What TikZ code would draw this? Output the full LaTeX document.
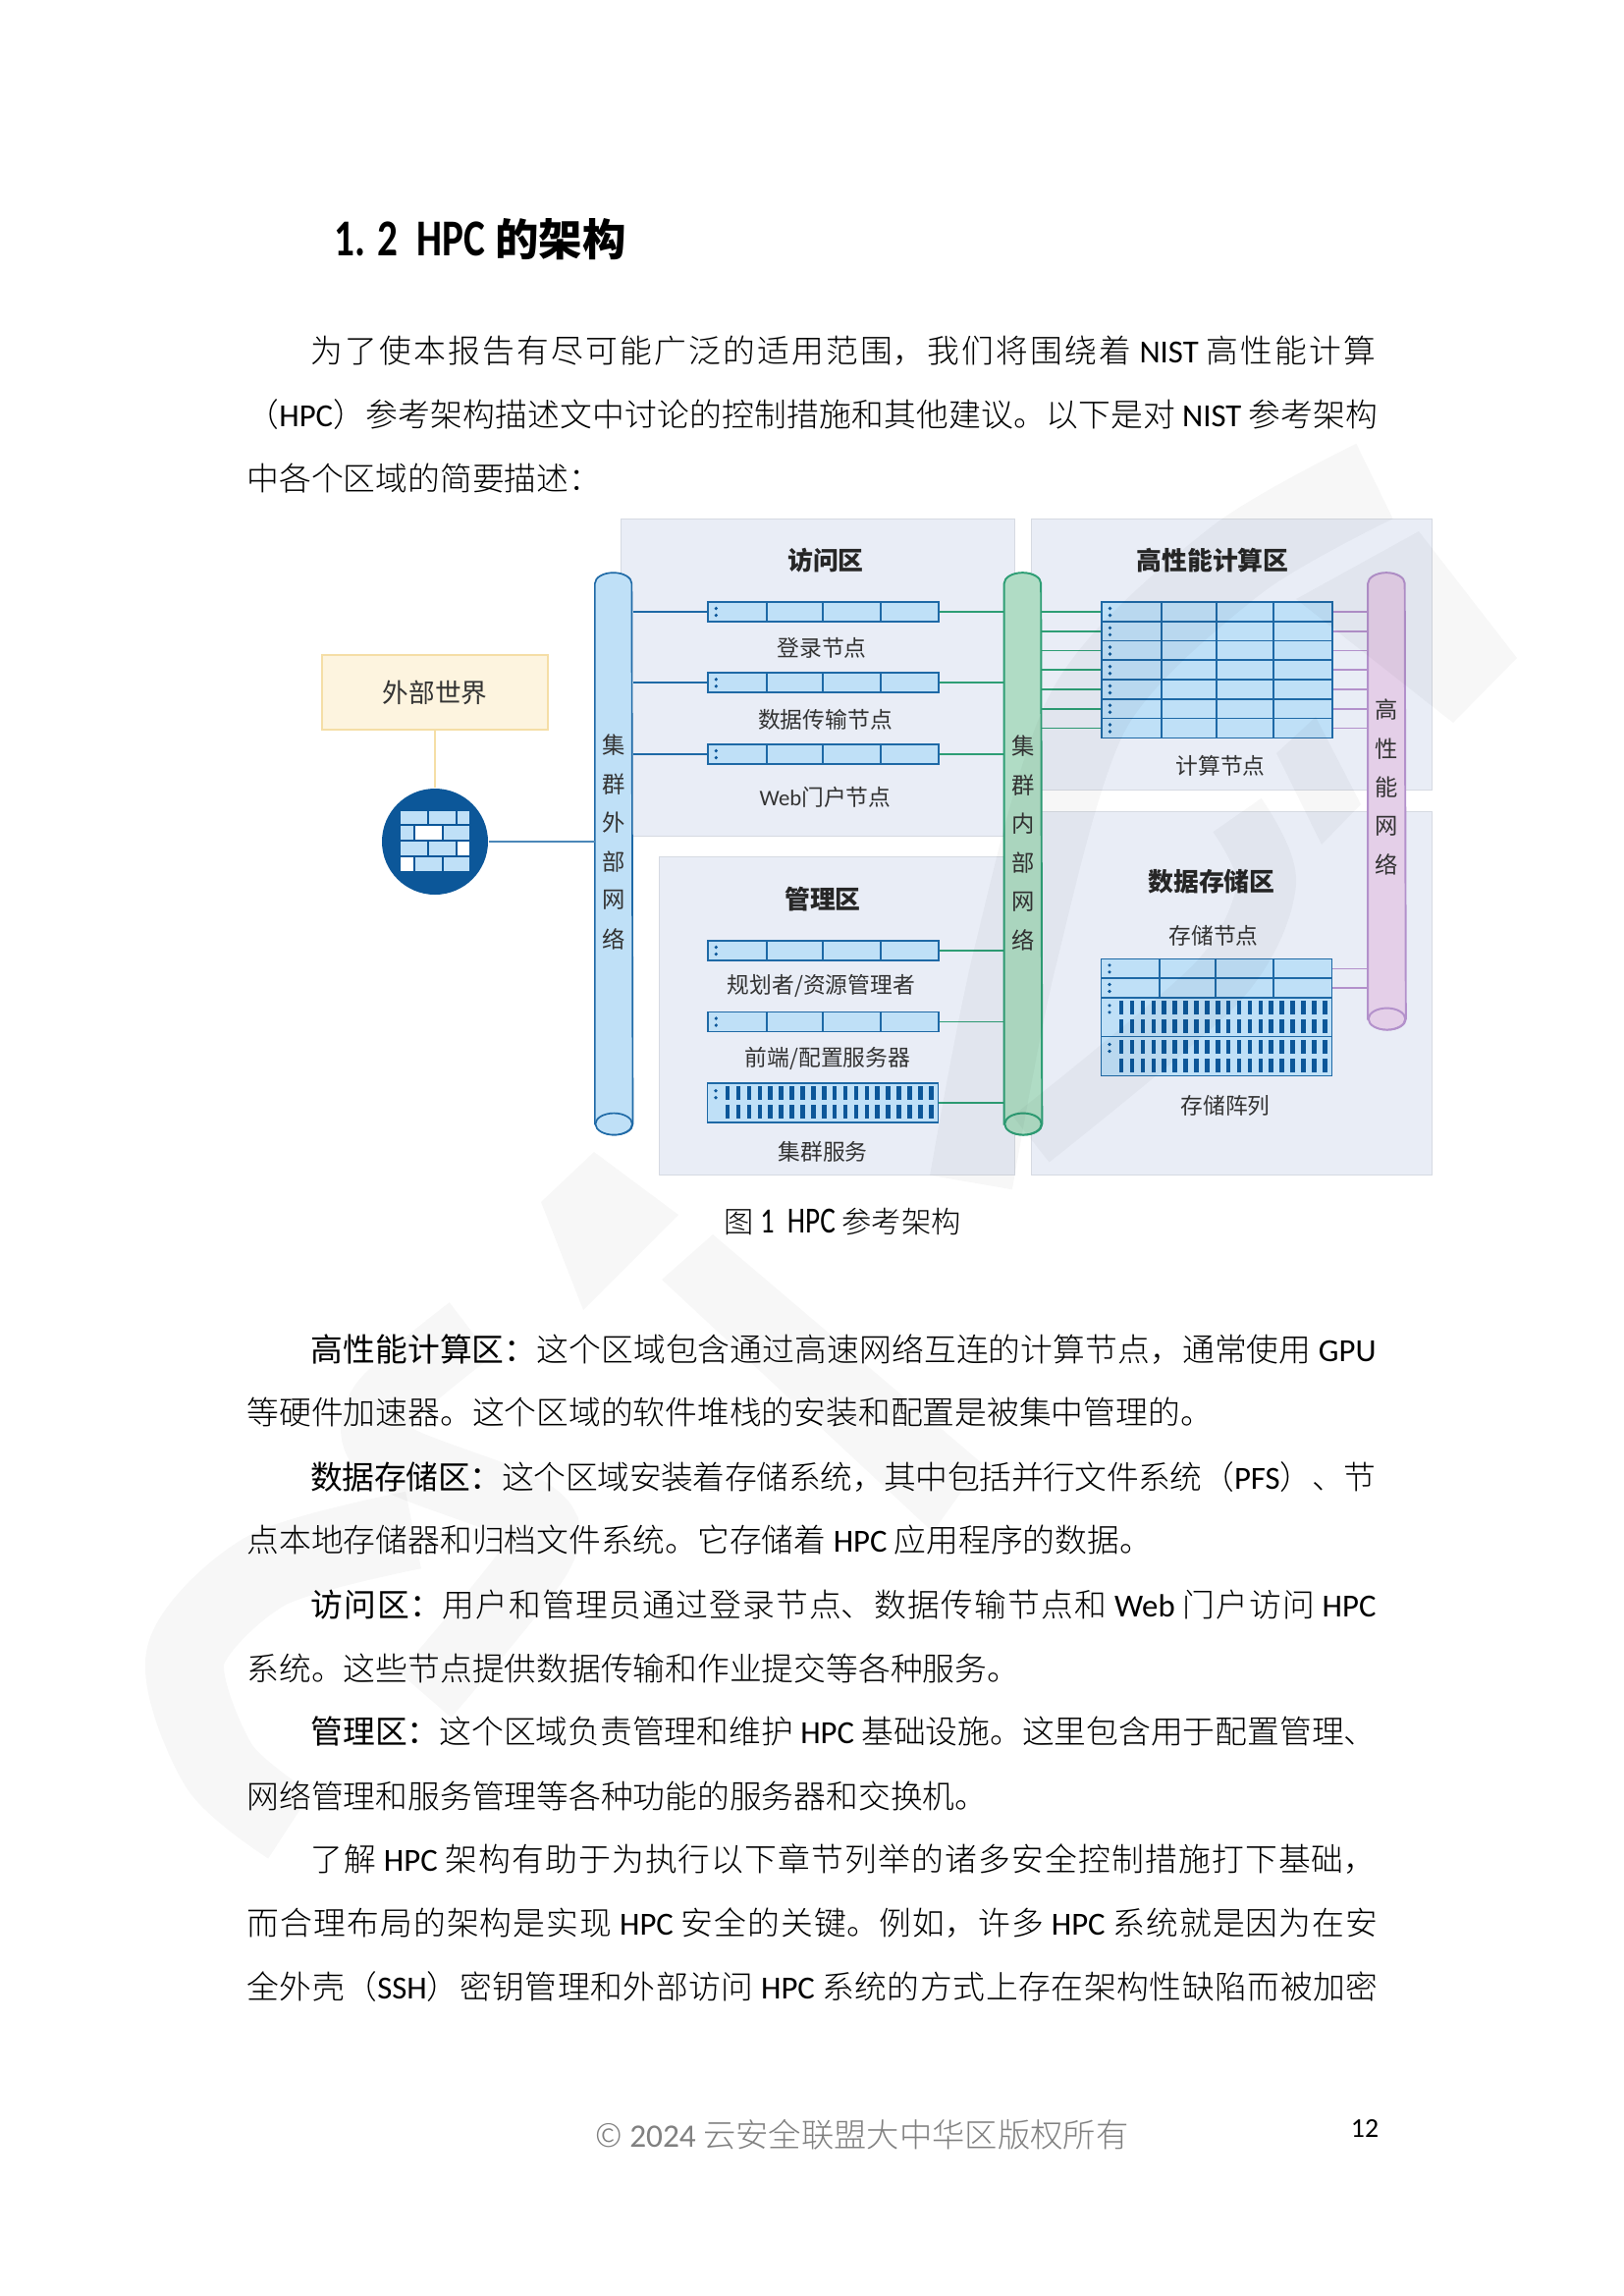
\documentclass[tikz,border=0pt]{standalone}
\usepackage{fontspec}
\setmainfont{Noto Sans CJK SC}
\newfontfamily\cjklight{Noto Sans CJK SC Light}
\newfontfamily\latfont{Carlito}
\newfontfamily\narrowlat[FakeStretch=0.78]{Carlito}
\def\unitpx{0.36pt}
\newcommand{\lat}[1]{{\latfont #1}}
\newcommand{\bodyfont}{\cjklight\fontsize{11.8pt}{14pt}\selectfont}
\newcommand{\fullline}[1]{#1\break}
\newcommand{\headfont}{\normalfont\fontsize{11.8pt}{14pt}\selectfont}
\definecolor{panelblue}{HTML}{E9EDF6}
\definecolor{cellblue}{HTML}{BFE0F7}
\definecolor{edgeblue}{HTML}{1E69A6}
\definecolor{darkblue}{HTML}{0C5799}
\definecolor{pipegreen}{HTML}{B0DCC5}
\definecolor{edgegreen}{HTML}{2E9E75}
\definecolor{pipepurple}{HTML}{E4CFE8}
\definecolor{edgepurple}{HTML}{B391CB}
\definecolor{worldfill}{HTML}{FDF4DF}
\definecolor{worldedge}{HTML}{F5DEA6}
\definecolor{labelgray}{HTML}{333333}
\tikzset{
  zonebox/.style={rectangle,fill=panelblue,draw=panelblue!92!black,line width=0.3pt,inner sep=0},
  zonetitle/.style={font=\bfseries\fontsize{9.3pt}{11pt}\selectfont,text=black!85,inner sep=0},
  itemlabel/.style={font=\fontsize{8.2pt}{10pt}\selectfont,text=labelgray,inner sep=0},
  pipelabel/.style={font=\fontsize{8.4pt}{10pt}\selectfont,text=labelgray,inner sep=0},
  pipeshape/.style={rectangle,inner sep=0,minimum width=37.5*\unitpx},
  extpipe/.style={fill=cellblue,draw=edgeblue,line width=0.6pt},
  intpipe/.style={fill=pipegreen,draw=edgegreen,line width=0.7pt},
  hsnpipe/.style={fill=pipepurple,draw=edgepurple,line width=0.7pt},
  hostcell/.style={rectangle,fill=cellblue,draw=edgeblue,line width=0.6pt,inner sep=0,minimum height=20*\unitpx},
  hostline/.style={draw=edgeblue,line width=0.6pt},
  extlink/.style={draw=edgeblue,line width=0.6pt},
  intlink/.style={draw=edgegreen,line width=0.6pt},
  hsnlink/.style={draw=edgepurple,line width=0.6pt},
  bodyline/.style={anchor=base west,inner sep=0,font=\bodyfont},
  bodyfull/.style={bodyline,text width=414.7pt,align=justify},
  bodyindent/.style={bodyline,text width=390.6pt,align=justify},
  wmfill/.style={fill=black,fill opacity=0.03,draw=none},
  wmstroke/.style={draw=black,draw opacity=0.03,fill=none,line cap=butt},
}
% network pipe: name, style, x, top, bottom
\newcommand{\netpipe}[5]{
  \node[pipeshape,minimum height={(#5-#4)*\unitpx}] (#1) at (#3,{(#4+#5)/2}) {};
  \draw[#2] (#1.south west) -- (#1.north west)
    arc[start angle=180,end angle=360,x radius=18.75,y radius=11]
    -- (#1.south east)
    arc[start angle=0,end angle=180,x radius=18.75,y radius=11] -- cycle;
  \draw[#2] (#1.south) ellipse[x radius=18.75,y radius=11];
}
% host row: name, x, y, list of dividers
\newcommand{\hostrow}[4]{
  \node[hostcell,minimum width=235*\unitpx] (#1) at (#2,#3) {};
  \foreach \dv in {#4} \draw[hostline] (\dv,0 |- #1.north) -- (\dv,0 |- #1.south);
  \fill[darkblue] ({#2-109},#3-3.5) circle (1.8) ({#2-109},#3+3.5) circle (1.8);
}
% drive row: name, x, y
\newcommand{\driverow}[3]{
  \node[hostcell,minimum width=235*\unitpx,minimum height=40*\unitpx] (#1) at (#2,#3) {};
  \foreach \nn in {0,...,19} {
    \fill[darkblue] ({#2-99.2+\nn*10.9},#3-16.5) rectangle ({#2-94.6+\nn*10.9},#3-2.5);
    \fill[darkblue] ({#2-99.2+\nn*10.9},#3+2) rectangle ({#2-94.6+\nn*10.9},#3+16);
  }
  \fill[darkblue] ({#2-109},#3-12) circle (1.8) ({#2-109},#3-5) circle (1.8);
}
\begin{document}
\XeTeXlinebreaklocale "zh"
\XeTeXlinebreakskip=0pt plus 4pt minus 0.3pt
\tolerance=9999
\hbadness=10000
\begin{tikzpicture}[x=\unitpx,y=-\unitpx]
  \useasboundingbox (0,0) rectangle (1653,2338);
  % heading and top paragraph
  \node[anchor=base west,inner sep=0,font=\bfseries\fontsize{16pt}{18pt}\selectfont] (head) at (340,260)
    {{\narrowlat\fontsize{19pt}{20pt}\selectfont 1. 2 \ HPC} 的架构};
  \node[bodyindent] (l1) at (316,369) {\fullline{为了使本报告有尽可能广泛的适用范围，我们将围绕着 \lat{NIST} 高性能计算}};
  \node[bodyfull] (l2) at (251,434) {\fullline{（\lat{HPC}）参考架构描述文中讨论的控制措施和其他建议。以下是对 \lat{NIST} 参考架构}};
  \node[bodyline] (l3) at (251,499) {中各个区域的简要描述：};
  % zones
  \node[zonebox,minimum width=401*\unitpx,minimum height=323.5*\unitpx] (accesszone) at (832.5,689.7) {};
  \node[zonebox,minimum width=362*\unitpx,minimum height=324*\unitpx] (mgmtzone) at (852,1034.5) {};
  \node[zonebox,minimum width=408*\unitpx,minimum height=276.6*\unitpx] (hpczone) at (1254,666.3) {};
  \node[zonebox,minimum width=408*\unitpx,minimum height=370.6*\unitpx] (storezone) at (1254,1011.3) {};
  \node[zonetitle] (accesstitle) at (841,571) {访问区};
  \node[zonetitle] (mgmttitle) at (838,916) {管理区};
  \node[zonetitle] (hpctitle) at (1235,571) {高性能计算区};
  \node[zonetitle] (storetitle) at (1234,898) {数据存储区};
  % pipes
  \netpipe{extnet}{extpipe}{625.2}{594.7}{1144}
  \netpipe{intnet}{intpipe}{1042}{594.7}{1144}
  \netpipe{hsnet}{hsnpipe}{1412.5}{594.7}{1037}
  \foreach \cc [count=\i from 0] in {集,群,外,部,网,络}
    \node[pipelabel] (extchar\i) at (625.5,{759+\i*39.4}) {\cc};
  \foreach \cc [count=\i from 0] in {集,群,内,部,网,络}
    \node[pipelabel] (intchar\i) at (1042,{760+\i*39.5}) {\cc};
  \foreach \cc [count=\i from 0] in {高,性,能,网,络}
    \node[pipelabel] (hsnchar\i) at (1412.5,{723+\i*39.4}) {\cc};
  % outside world
  \node[rectangle,fill=worldfill,draw=worldedge,line width=0.7pt,minimum width=230*\unitpx,minimum height=76.5*\unitpx,font=\fontsize{9.6pt}{11pt}\selectfont,text=labelgray] (world) at (443,705) {外部世界};
  \node[circle,fill=darkblue,inner sep=0,minimum size=108*\unitpx] (firewall) at (443,857) {};
  \foreach \xa/\xb/\ya/\yb/\cc in {408.3/434.7/825.7/839.3/cellblue,437/463.7/825.7/839.3/cellblue,466/478.3/825.7/839.3/cellblue,
      408.3/421/841.3/855.3/cellblue,422.7/450/841.3/855.3/white,452/478.3/841.3/855.3/cellblue,
      408.3/434.7/857.3/871/cellblue,437/463.7/857.3/871/cellblue,466/478.3/857.3/871/white,
      408.3/421/873.3/887.3/white,422.7/450/873.3/887.3/cellblue,452/478.3/873.3/887.3/cellblue}
    \fill[\cc] (\xa,\ya) rectangle (\xb,\yb);
  \draw[draw=worldedge,line width=0.7pt] (world) -- (firewall);
  \draw[draw=edgeblue!80,line width=0.5pt] (firewall) -- (firewall -| extnet.west);
  % access zone hosts
  \hostrow{login}{838.3}{623}{781,838,897}
  \hostrow{transfer}{838.3}{695.3}{781,838,897}
  \hostrow{portal}{838.3}{768}{781,838,897}
  \node[itemlabel] (loginname) at (837,660) {登录节点};
  \node[itemlabel] (transfername) at (840.5,733) {数据传输节点};
  \node[itemlabel] (portalname) at (840.5,812) {\lat{Web}门户节点};
  \foreach \h in {login,transfer,portal} {
    \draw[extlink] (extnet.east |- \h) -- (\h);
    \draw[intlink] (\h) -- (intnet.west |- \h);
  }
  % management zone hosts
  \hostrow{planner}{838.3}{968}{781,838,897}
  \hostrow{frontend}{838.3}{1040.5}{781,838,897}
  \driverow{services}{838}{1122.7}
  \node[itemlabel] (plannername) at (836.5,1004) {规划者/资源管理者};
  \node[itemlabel] (frontendname) at (843,1078) {前端/配置服务器};
  \node[itemlabel] (servicesname) at (838,1173) {集群服务};
  \foreach \h in {planner,frontend,services}
    \draw[intlink] (\h) -- (intnet.west |- \h);
  % compute nodes
  \foreach \yy [count=\i] in {623,642.8,662.5,682.2,702,721.7,741.5} {
    \hostrow{comp\i}{1239.5}{\yy}{1182.7,1239,1297}
    \draw[intlink] (intnet.east |- comp\i) -- (comp\i);
    \draw[hsnlink] (comp\i) -- (hsnet.west |- comp\i);
  }
  \node[itemlabel] (compname) at (1243,780) {计算节点};
  % storage nodes
  \hostrow{store1}{1239}{986.4}{1181,1237.7,1297}
  \hostrow{store2}{1239}{1006}{1181,1237.7,1297}
  \driverow{array1}{1239}{1035.8}
  \driverow{array2}{1239}{1075.5}
  \draw[hsnlink] (store1) -- (hsnet.west |- store1);
  \draw[hsnlink] (store2) -- (hsnet.west |- store2);
  \node[itemlabel] (storename) at (1236,953) {存储节点};
  \node[itemlabel] (arrayname) at (1248,1126) {存储阵列};
  % caption
  \node[inner sep=0,font=\cjklight\fontsize{10.9pt}{12pt}\selectfont] (caption) at (858,1244)
    {图 {\narrowlat\fontsize{13pt}{14pt}\selectfont 1} \ {\narrowlat\fontsize{13.5pt}{14pt}\selectfont HPC} 参考架构};
  % lower paragraphs
  \node[bodyindent] (b1) at (316,1386) {\fullline{{\headfont 高性能计算区：}这个区域包含通过高速网络互连的计算节点，通常使用 \lat{GPU}}};
  \node[bodyline] (b2) at (251,1450) {等硬件加速器。这个区域的软件堆栈的安装和配置是被集中管理的。};
  \node[bodyindent] (b3) at (316,1516) {\fullline{{\headfont 数据存储区：}这个区域安装着存储系统，其中包括并行文件系统（\lat{PFS}）、节}};
  \node[bodyline] (b4) at (251,1580) {点本地存储器和归档文件系统。它存储着 \lat{HPC} 应用程序的数据。};
  \node[bodyindent] (b5) at (316,1646) {\fullline{{\headfont 访问区：}用户和管理员通过登录节点、数据传输节点和 \lat{Web} 门户访问 \lat{HPC}}};
  \node[bodyline] (b6) at (251,1711) {系统。这些节点提供数据传输和作业提交等各种服务。};
  \node[bodyindent] (b7) at (316,1775) {\fullline{{\headfont 管理区：}这个区域负责管理和维护 \lat{HPC} 基础设施。这里包含用于配置管理、}};
  \node[bodyline] (b8) at (251,1841) {网络管理和服务管理等各种功能的服务器和交换机。};
  \node[bodyindent] (b9) at (316,1905) {\fullline{了解 \lat{HPC} 架构有助于为执行以下章节列举的诸多安全控制措施打下基础，}};
  \node[bodyfull] (b10) at (251,1970) {\fullline{而合理布局的架构是实现 \lat{HPC} 安全的关键。例如，许多 \lat{HPC} 系统就是因为在安}};
  \node[bodyfull] (b11) at (251,2035) {\fullline{全外壳（\lat{SSH}）密钥管理和外部访问 \lat{HPC} 系统的方式上存在架构性缺陷而被加密}};
  % footer
  \node[inner sep=0,text=black!50,font=\cjklight\fontsize{12pt}{14pt}\selectfont] (footer) at (878,2174) {© {\latfont 2024} 云安全联盟大中华区版权所有};
  \node[inner sep=0,font=\latfont\fontsize{10pt}{12pt}\selectfont] (pagenum) at (1390,2167) {12};
  % watermark
  \draw[wmstroke,line width=80*\unitpx] plot[smooth] coordinates {(421,1558) (272,1599) (189,1686) (223,1798) (295,1859)};
  \draw[wmstroke,line width=70*\unitpx] plot[smooth] coordinates {(479,1354) (390,1431) (398,1482) (536,1538) (548,1584) (433,1726)};
  \fill[wmfill] (551,1224) -- (605,1173) -- (691,1237) -- (594,1334) -- cycle;
  \fill[wmfill] (674,1303) -- (726,1257) -- (1000,1490) -- (950,1560) -- cycle;
  \draw[wmstroke,line width=85*\unitpx] plot[smooth] coordinates {(1400,490) (1257,572) (1110,721) (1034,974) (989,1204)};
  \draw[wmstroke,line width=60*\unitpx] plot[smooth] coordinates {(1260,830) (1290,900) (1240,1000) (1050,1160)};
  \fill[wmfill] (1445,541) -- (1545,670) -- (1480,736) -- (1320,610) -- cycle;
  \fill[wmfill] (1300,767) -- (1346,860) -- (1386,819) -- (1340,730) -- cycle;
\end{tikzpicture}
\end{document}
